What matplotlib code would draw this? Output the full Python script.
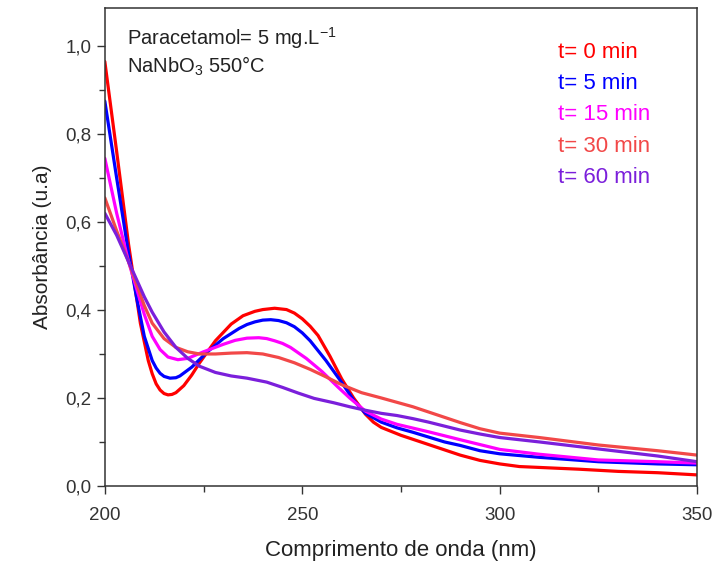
import matplotlib
matplotlib.use("Agg")
import matplotlib.pyplot as plt
from matplotlib.ticker import MultipleLocator, FuncFormatter

plt.rcParams["font.family"] = ["Liberation Sans", "DejaVu Sans"]
plt.rcParams["mathtext.fontset"] = "custom"
plt.rcParams["mathtext.rm"] = "Liberation Sans"

# espectros UV-Vis por tempo de reação (nm, u.a.)
wl_0 = [200, 203, 206, 207, 209, 211, 212, 213, 214, 215, 216, 217, 218, 220, 222,
        224, 228, 232, 235, 238, 240, 243, 246, 248, 250, 252, 254, 257, 260, 263,
        266, 268, 270, 275, 280, 285, 290, 295, 300, 305, 310, 320, 330, 340, 350]
abs_0 = [0.965, 0.76, 0.55, 0.49, 0.37, 0.285, 0.255, 0.232, 0.218, 0.210, 0.207,
         0.208, 0.212, 0.228, 0.252, 0.28, 0.33, 0.368, 0.387, 0.397, 0.401, 0.404,
         0.401, 0.393, 0.38, 0.363, 0.342, 0.295, 0.243, 0.20, 0.163, 0.145, 0.133,
         0.115, 0.10, 0.085, 0.07, 0.058, 0.05, 0.044, 0.042, 0.038, 0.033, 0.03,
         0.025]

wl_5 = [200, 203, 206, 208, 210, 212, 213, 214, 215, 216.5, 218, 219, 222, 226, 230,
        234, 236, 238, 240, 242, 244, 246, 248, 250, 252, 256, 260, 263, 266, 270,
        274, 278, 282, 286, 290, 295, 300, 310, 325, 340, 350]
abs_5 = [0.875, 0.70, 0.53, 0.43, 0.34, 0.285, 0.268, 0.256, 0.249, 0.245, 0.246,
         0.25, 0.27, 0.305, 0.335, 0.358, 0.367, 0.373, 0.377, 0.378, 0.376, 0.371,
         0.362, 0.348, 0.33, 0.285, 0.235, 0.195, 0.165, 0.145, 0.132, 0.122, 0.111,
         0.10, 0.092, 0.08, 0.073, 0.065, 0.055, 0.05, 0.048]

wl_15 = [200, 203, 206, 208, 210, 212, 214, 216, 218.5, 221, 225, 230, 233, 236, 239,
         241, 243, 245, 247, 251, 255, 259, 262, 266, 270, 274, 282, 290, 300, 310,
         325, 340, 350]
abs_15 = [0.745, 0.62, 0.51, 0.45, 0.39, 0.34, 0.31, 0.293, 0.287, 0.29, 0.305,
          0.322, 0.331, 0.336, 0.337, 0.335, 0.33, 0.324, 0.315, 0.29, 0.26, 0.225,
          0.20, 0.17, 0.152, 0.14, 0.123, 0.105, 0.083, 0.072, 0.059, 0.055, 0.052]

wl_30 = [200, 203, 206, 208, 210, 212, 215, 218, 221, 224, 228, 232, 236, 240, 244,
         248, 252, 256, 260, 265, 270, 274, 278, 282, 286, 290, 295, 300, 310, 325,
         340, 350]
abs_30 = [0.655, 0.58, 0.51, 0.46, 0.41, 0.37, 0.335, 0.315, 0.305, 0.30, 0.30,
          0.302, 0.303, 0.30, 0.292, 0.28, 0.265, 0.248, 0.23, 0.212, 0.20, 0.19,
          0.18, 0.168, 0.156, 0.144, 0.13, 0.12, 0.11, 0.093, 0.08, 0.07]

wl_60 = [200, 203, 206, 208, 210, 212, 215, 218, 221, 224, 228, 232, 236, 241, 245,
         249, 253, 258, 262, 266, 270, 274, 278, 282, 286, 290, 295, 300, 310, 325,
         340, 350]
abs_60 = [0.62, 0.57, 0.51, 0.47, 0.43, 0.395, 0.35, 0.315, 0.29, 0.272, 0.258,
          0.25, 0.245, 0.236, 0.224, 0.211, 0.199, 0.189, 0.18, 0.172, 0.165, 0.16,
          0.153, 0.145, 0.136, 0.127, 0.118, 0.11, 0.10, 0.084, 0.068, 0.055]

labels = ["t= 0 min", "t= 5 min", "t= 15 min", "t= 30 min", "t= 60 min"]
cores = ["#FF0000", "#0000FF", "#FF00FF", "#F24848", "#7B1FDB"]
series = [(wl_0, abs_0), (wl_5, abs_5), (wl_15, abs_15), (wl_30, abs_30),
          (wl_60, abs_60)]

fig = plt.figure(figsize=(7.18, 5.65), dpi=100)
ax = fig.add_axes([0.146, 0.140, 0.825, 0.846])

for (x, y), c in zip(series, cores):
    ax.plot(x, y, color=c, lw=2.3, solid_capstyle="round", solid_joinstyle="round")

ax.set_xlim(200, 350)
ax.set_ylim(0, 1.087)
ax.xaxis.set_major_locator(MultipleLocator(50))
ax.xaxis.set_minor_locator(MultipleLocator(25))
ax.yaxis.set_major_locator(MultipleLocator(0.2))
ax.yaxis.set_minor_locator(MultipleLocator(0.1))
ax.yaxis.set_major_formatter(FuncFormatter(lambda v, p: f"{v:.1f}".replace(".", ",")))
ax.tick_params(which="both", direction="out", labelsize=13.5, color="#333333",
               labelcolor="#333333", width=1.0)
ax.tick_params(which="major", length=6)
ax.tick_params(which="minor", length=4)
ax.tick_params(axis="x", pad=9)
for s in ax.spines.values():
    s.set_linewidth(1.1)
    s.set_color("#333333")

ax.set_xlabel("Comprimento de onda (nm)", fontsize=16, color="#222222", labelpad=12)
ax.set_ylabel("Absorbância (u.a)", fontsize=15, color="#222222", labelpad=10)

ax.text(0.037, 0.937, "Paracetamol= 5 mg.L$^{-1}$", transform=ax.transAxes,
        fontsize=14.5, va="center", ha="left", color="#222222")
ax.text(0.037, 0.877, "NaNbO$_3$ 550°C", transform=ax.transAxes,
        fontsize=14.5, va="center", ha="left", color="#222222")

for i, (lab, c) in enumerate(zip(labels, cores)):
    ax.text(0.765, 0.906 - i * 0.065, lab, transform=ax.transAxes,
            fontsize=16, va="center", ha="left", color=c)

fig.savefig("out.png", dpi=100)
